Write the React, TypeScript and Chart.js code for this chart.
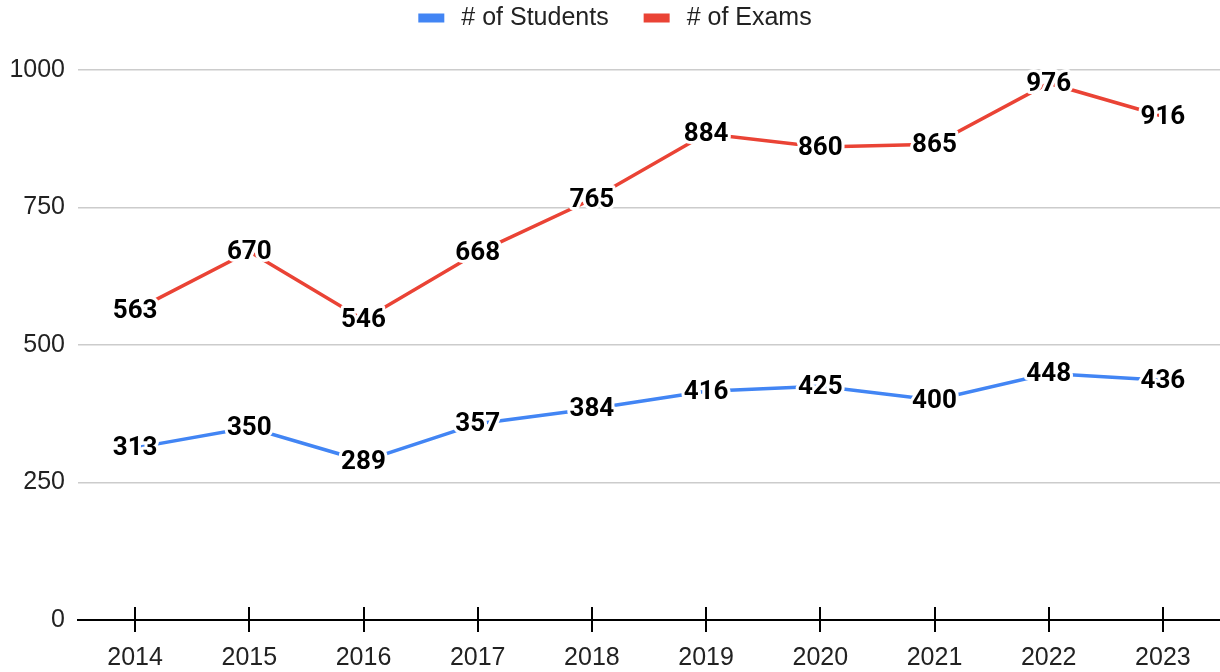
import React, { useEffect, useRef } from "react";
import { Chart, registerables } from "chart.js";

Chart.register(...registerables);

const years = ["2014", "2015", "2016", "2017", "2018", "2019", "2020", "2021", "2022", "2023"];
const students = [313, 350, 289, 357, 384, 416, 425, 400, 448, 436];
const exams = [563, 670, 546, 668, 765, 884, 860, 865, 976, 916];
const yTicks = [0, 250, 500, 750, 1000];

const BLUE = "#4285F4";
const RED = "#EA4335";
const TEXT = "#222222";

const legendPlugin = {
  id: "customLegend",
  afterDraw(chart: any) {
    const ctx = chart.ctx;
    ctx.save();
    ctx.font = "25px 'Liberation Sans', Arial, sans-serif";
    ctx.textBaseline = "middle";
    ctx.textAlign = "left";
    const boxW = 26, boxH = 9, gap = 17, itemGap = 35;
    const items = chart.data.datasets.map((d: any) => ({
      label: d.label,
      color: d.borderColor,
      w: ctx.measureText(d.label).width,
    }));
    let total = 0;
    items.forEach((it: any, i: number) => {
      total += boxW + gap + it.w + (i < items.length - 1 ? itemGap : 0);
    });
    let x = chart.width / 2 + 5 - total / 2;
    const cy = 18;
    items.forEach((it: any) => {
      ctx.fillStyle = it.color;
      ctx.fillRect(x, cy - boxH / 2, boxW, boxH);
      x += boxW + gap;
      ctx.fillStyle = TEXT;
      ctx.fillText(it.label, x, cy);
      x += it.w + itemGap;
    });
    ctx.restore();
  },
};

const tickUpPlugin = {
  id: "tickUp",
  afterDatasetsDraw(chart: any) {
    const xs = chart.scales.x;
    const ctx = chart.ctx;
    const bottom = chart.chartArea.bottom;
    ctx.save();
    ctx.strokeStyle = "#000";
    ctx.lineWidth = 2;
    xs.ticks.forEach((_: any, i: number) => {
      const px = Math.round(xs.getPixelForTick(i));
      ctx.beginPath();
      ctx.moveTo(px, bottom - 13);
      ctx.lineTo(px, bottom);
      ctx.stroke();
    });
    ctx.restore();
  },
};

const dataLabelPlugin = {
  id: "dataLabels",
  afterDatasetsDraw(chart: any) {
    const ctx = chart.ctx;
    ctx.save();
    ctx.font = "bold 26px Roboto, 'Noto Sans', sans-serif";
    ctx.textAlign = "center";
    ctx.textBaseline = "middle";
    ctx.lineJoin = "round";
    chart.data.datasets.forEach((ds: any, di: number) => {
      const meta = chart.getDatasetMeta(di);
      meta.data.forEach((pt: any, i: number) => {
        const txt = String(ds.data[i]);
        ctx.strokeStyle = "#ffffff";
        ctx.lineWidth = 6;
        ctx.strokeText(txt, pt.x, pt.y + 1);
        ctx.fillStyle = "#000000";
        ctx.fillText(txt, pt.x, pt.y + 1);
      });
    });
    ctx.restore();
  },
};

export default function App() {
  const ref = useRef<HTMLCanvasElement | null>(null);

  useEffect(() => {
    if (!ref.current) return;
    const chart = new Chart(ref.current, {
      type: "line",
      data: {
        labels: years,
        datasets: [
          {
            label: "# of Students",
            data: students,
            borderColor: BLUE,
            backgroundColor: BLUE,
            borderWidth: 3.5,
            pointRadius: 0,
            tension: 0,
          },
          {
            label: "# of Exams",
            data: exams,
            borderColor: RED,
            backgroundColor: RED,
            borderWidth: 3.5,
            pointRadius: 0,
            tension: 0,
          },
        ],
      },
      options: {
        responsive: false,
        animation: false,
        layout: { padding: { top: 70, right: 0, bottom: 0, left: 0 } },
        plugins: {
          legend: { display: false },
          tooltip: { enabled: false },
        },
        scales: {
          x: {
            offset: true,
            grid: {
              display: true,
              drawOnChartArea: false,
              offset: false,
              tickLength: 12,
              color: "#000",
              lineWidth: 2,
            },
            border: { display: true, color: "#000", width: 2 },
            ticks: {
              color: TEXT,
              font: { family: "'Liberation Sans', Arial, sans-serif", size: 25 },
              padding: 11,
              maxRotation: 0,
            },
            afterFit: (s: any) => {
              s.height = 52;
            },
          },
          y: {
            min: 0,
            max: 1000,
            afterBuildTicks: (s: any) => {
              s.ticks = yTicks.map((v) => ({ value: v }));
            },
            grid: { color: "#cccccc", lineWidth: 1.5, drawTicks: false },
            border: { display: false },
            ticks: {
              color: TEXT,
              font: { family: "'Liberation Sans', Arial, sans-serif", size: 25 },
              padding: 13,
              callback: (v: any) => String(v),
            },
            afterFit: (s: any) => {
              s.width = 78;
            },
          },
        },
      },
      plugins: [legendPlugin, tickUpPlugin, dataLabelPlugin],
    });
    return () => chart.destroy();
  }, []);

  return (
    <div style={{ position: "fixed", left: 0, top: 0, width: 1220, height: 672, background: "#fff" }}>
      <canvas ref={ref} width={1220} height={672} style={{ display: "block" }} />
    </div>
  );
}
